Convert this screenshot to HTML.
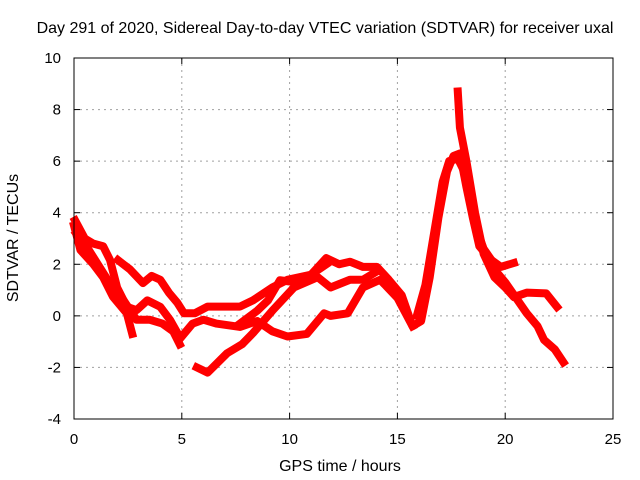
<!DOCTYPE html>
<html><head><meta charset="utf-8"><style>
html,body{margin:0;padding:0;background:#fff}
svg{display:block;font-family:"Liberation Sans",sans-serif}
</style></head><body>
<svg id="chart" width="640" height="480">
<text x="325" y="33" font-size="16" text-anchor="middle">Day 291 of 2020, Sidereal Day-to-day VTEC variation (SDTVAR) for receiver uxal</text>
<text x="340" y="471" font-size="16" text-anchor="middle">GPS time / hours</text>
<text transform="translate(18,238) rotate(-90)" font-size="16" text-anchor="middle">SDTVAR / TECUs</text>
<g id="grid"></g>
<g id="series"></g>
<g id="axes"></g>
</svg>
<script>
const xTicks=[0,5,10,15,20,25];
const yTicks=[-4,-2,0,2,4,6,8,10];
const trackA=[[0.05,3.7],[0.5,3.0],[0.9,2.8],[1.35,2.7],[1.67,2.17],[2.0,1.1],[2.45,0.35],[2.9,0.22],[3.4,0.6],[4,0.35],[4.45,-0.15],[4.8,-0.67]];
const trackB=[[0.0,3.5],[0.3,2.55],[0.9,2.0],[1.35,1.5],[1.8,0.75],[2.45,0.1],[2.7,-0.7]];
const trackC=[[0.1,3.2],[0.6,2.67],[1.67,1.25],[2.3,0.6],[2.9,-0.15],[3.5,-0.15],[4.1,-0.3],[4.6,-0.6],[4.9,-1.1]];
const trackD=[[2.04,2.16],[2.6,1.8],[3.2,1.27],[3.6,1.55],[4.0,1.4],[4.4,0.9],[4.8,0.5],[5.1,0.1],[5.6,0.1],[6.2,0.36],[7.7,0.36],[8.3,0.6],[9.2,1.1],[9.9,1.4],[11.0,1.6],[11.7,2.24],[12.3,2.0],[12.8,2.1],[13.4,1.9],[14.05,1.9],[14.6,1.4],[15.2,0.8],[15.7,-0.4],[16.1,-0.2],[16.5,1.5],[16.9,3.8],[17.3,5.6],[17.6,6.2],[17.9,6.3],[18.2,5.0],[18.5,3.8],[18.8,2.7],[19.3,2.2],[19.8,1.9],[20.4,2.05]];
const trackE=[[5.7,-2.0],[6.2,-2.2],[7.1,-1.45],[7.8,-1.1],[8.3,-0.67],[9.2,0.2],[10.2,1.1],[11.3,1.5],[11.9,1.1],[12.8,1.4],[13.4,1.4],[14.0,1.7]];
const trackF=[[4.9,-0.9],[5.5,-0.3],[6.0,-0.15],[6.6,-0.3],[7.7,-0.43],[8.5,-0.2],[9.2,-0.6],[9.9,-0.8],[10.8,-0.7],[11.6,0.1],[11.9,0.0],[12.7,0.1],[13.4,1.1],[14.2,1.4],[15.0,0.7],[15.7,-0.4]];
const trackG=[[7.7,-0.3],[8.5,0.2],[9.0,0.6],[9.55,1.38],[10.3,1.3],[11.0,1.6],[11.7,2.0]];
const trackH=[[17.8,8.7],[17.9,7.3],[18.2,6.0],[18.6,4.0],[19.0,2.4],[19.5,1.5],[20.0,1.1],[20.4,0.73],[21.0,0.9],[21.9,0.87],[22.4,0.35]];
const trackI=[[19.5,1.8],[20.0,1.3],[20.5,0.7],[21.0,0.1],[21.5,-0.4],[21.8,-0.93],[22.3,-1.3],[22.7,-1.8]];
const trackJ=[[15.9,0.0],[16.3,1.2],[16.7,3.2],[17.1,5.2],[17.4,6.0],[17.8,6.1],[18.1,5.6],[18.4,4.5],[18.7,3.3],[19.0,2.6],[19.5,2.0]];
const tracks=[trackA,trackB,trackC,trackD,trackE,trackF,trackG,trackH,trackI,trackJ];
const trackNames=['track-a','track-b','track-c','track-d','track-e','track-f','track-g','track-h','track-i','track-j'];
const X0=74,X1=613,Y0=419,Y1=58;
function sx(h){return X0+(h-0)/(25-0)*(X1-X0);}
function sy(v){return Y0-(v-(-4))/(10-(-4))*(Y0-Y1);}
const NS='http://www.w3.org/2000/svg';
function mk(t,a,p){const e=document.createElementNS(NS,t);for(const k in a)e.setAttribute(k,a[k]);p.appendChild(e);return e;}
const grid=document.getElementById('grid'),axes=document.getElementById('axes'),series=document.getElementById('series');
xTicks.forEach(t=>{
  const x=sx(t);
  if(t>0&&t<25){const l=mk('line',{x1:x,x2:x,y1:Y1,y2:Y0,stroke:'#a0a0a0','stroke-dasharray':'2,4'},grid);
  
  }
  mk('line',{x1:x,x2:x,y1:Y0,y2:Y0-6,stroke:'#000'},axes);
  mk('line',{x1:x,x2:x,y1:Y1,y2:Y1+6,stroke:'#000'},axes);
  const tx=mk('text',{x:x,y:Y0+25,'font-size':15,'text-anchor':'middle'},axes);tx.textContent=t;
  
  
});
yTicks.forEach(t=>{
  const y=sy(t);
  if(t>-4&&t<10){const l=mk('line',{x1:X0,x2:X1,y1:y,y2:y,stroke:'#a0a0a0','stroke-dasharray':'2,4'},grid);
  
  }
  mk('line',{x1:X0,x2:X0+6,y1:y,y2:y,stroke:'#000'},axes);
  mk('line',{x1:X1,x2:X1-6,y1:y,y2:y,stroke:'#000'},axes);
  const tx=mk('text',{x:X0-13,y:y+5,'font-size':15,'text-anchor':'end'},axes);tx.textContent=t;
  
  
});
const frame=mk('rect',{x:X0,y:Y1,width:X1-X0,height:Y0-Y1,fill:'none',stroke:'#000'},axes);


tracks.forEach((tr,i)=>{
  const p=mk('polyline',{points:tr.map(d=>sx(d[0])+','+sy(d[1])).join(' '),fill:'none',stroke:'#ff0000','stroke-width':8,'stroke-linejoin':'round','stroke-linecap':'square'},series);
  
  
});
</script>
</body></html>
